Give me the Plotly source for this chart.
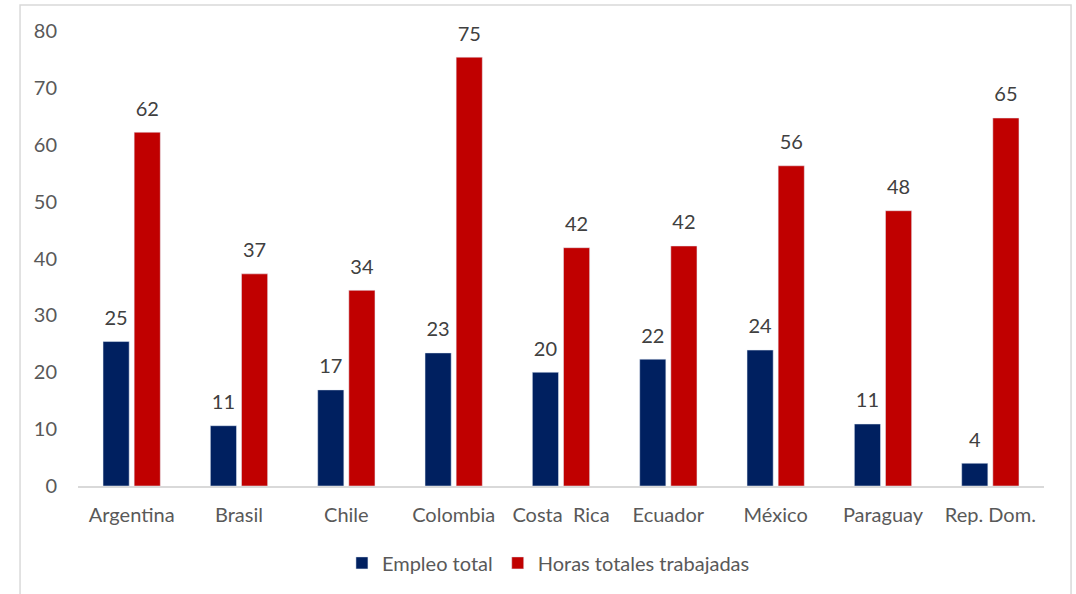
import plotly.graph_objects as go

categories = ["Argentina", "Brasil", "Chile", "Colombia", "Costa  Rica",
              "Ecuador", "México", "Paraguay", "Rep. Dom."]
empleo_total = [25.4, 10.6, 16.9, 23.4, 20.0, 22.3, 23.9, 10.9, 4.0]
horas_totales = [62.2, 37.3, 34.4, 75.4, 41.9, 42.2, 56.3, 48.4, 64.7]
y_ticks = [0, 10, 20, 30, 40, 50, 60, 70, 80]

FONT = "Lato"
GREY = "#595959"
FS = 20
GAP = 0.42

fig = go.Figure()
series = [("Empleo total", empleo_total, "#002060", "g1"),
          ("Horas totales trabajadas", horas_totales, "#C00000", "g2")]
for name, vals, col, grp in series:
    fig.add_trace(go.Bar(
        name=name, x=categories, y=vals, marker=dict(color=col),
        offsetgroup=grp, hoverinfo="skip",
    ))
for name, vals, col, grp in series:
    fig.add_trace(go.Scatter(
        x=categories, y=vals, mode="markers+text",
        text=[f"{v:.0f}" for v in vals], textposition="top center",
        textfont=dict(family=FONT, size=FS, color="#404040"),
        marker=dict(size=17, opacity=0, color=col),
        offsetgroup=grp, showlegend=False, cliponaxis=False, hoverinfo="skip",
    ))

fig.update_layout(
    width=1076, height=594,
    margin=dict(l=78, r=32, t=31, b=108),
    paper_bgcolor="white", plot_bgcolor="white",
    barmode="group", bargap=GAP, bargroupgap=0.16,
    scattermode="group", scattergap=GAP,
    font=dict(family=FONT, size=FS, color=GREY),
    showlegend=True,
    legend=dict(orientation="h", x=0.487, xanchor="center", y=-0.169, yanchor="middle",
                font=dict(family=FONT, size=FS, color=GREY), traceorder="normal",
                itemwidth=30),
    xaxis=dict(showline=True, linecolor="#D9D9D9", linewidth=1.5, ticks="",
               showgrid=False, ticklabelstandoff=10,
               tickfont=dict(family=FONT, size=FS, color=GREY)),
    yaxis=dict(range=[0, 80], tickvals=y_ticks, showgrid=False, zeroline=False,
               showline=False, ticks="", ticklabelstandoff=20,
               tickfont=dict(family=FONT, size=FS, color=GREY)),
    shapes=[dict(type="rect", xref="paper", yref="paper",
                 x0=-0.060, x1=1.028, y0=-0.35, y1=1.057,
                 line=dict(color="#D9D9D9", width=1.5), fillcolor="rgba(0,0,0,0)",
                 layer="below")],
)

fig.write_html("out.html", config={"displayModeBar": False},
               post_script="document.body.style.margin='0';")
